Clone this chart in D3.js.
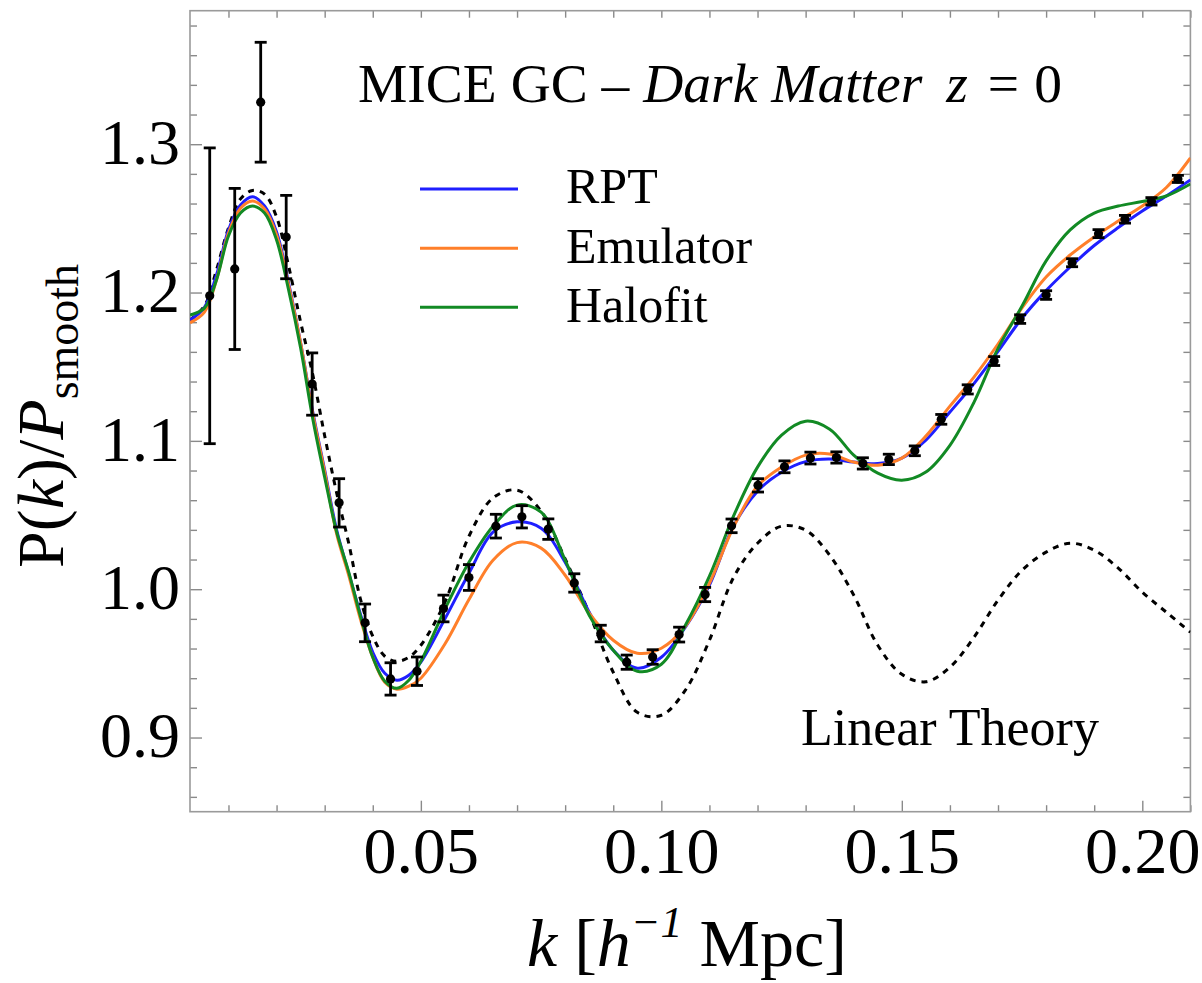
<!DOCTYPE html>
<html><head><meta charset="utf-8">
<script src="https://cdn.jsdelivr.net/npm/d3@7"></script>
<style>
body{margin:0;background:#fff}
svg{display:block}
text{font-family:"Liberation Serif","Times New Roman",serif;fill:#000}
</style>
</head><body>
<svg id="c" width="1202" height="983"></svg>
<script>
// ---- data ----
const kGrid = [0.002,0.005,0.0075,0.01,0.0125,0.015,0.0175,0.02,0.0225,0.025,0.0275,0.03,0.0325,0.035,0.0375,0.04,0.0425,0.045,0.0475,0.05,
  0.055,0.06,0.065,0.07,0.075,0.08,0.085,0.09,0.095,0.10,0.105,0.11,0.115,0.12,0.125,0.13,0.135,0.14,0.145,0.15,0.155,0.16,0.165,0.17,0.175,0.18,0.185,0.19,0.195,0.20,0.205,0.21];
const rpt = [1.1814,1.1900,1.2118,1.2422,1.2590,1.2646,1.2583,1.2408,1.2064,1.1659,1.1200,1.0803,1.0398,1.0108,0.9825,0.9575,0.9433,0.9386,0.9420,0.9508,
  0.9800,1.0108,1.0384,1.0454,1.0411,1.0182,0.9845,0.9589,0.9467,0.9541,0.9744,1.0027,1.0425,1.0661,1.0789,1.0860,1.0877,1.0857,1.0847,1.0884,1.1005,1.1194,1.1386,1.1603,1.1828,1.2013,1.2172,1.2317,1.2438,1.2550,1.2651,1.2759];
const emulator = [1.1796,1.1868,1.2084,1.2401,1.2568,1.2617,1.2563,1.2388,1.2050,1.1659,1.1187,1.0789,1.0371,1.0094,0.9791,0.9541,0.9373,0.9326,0.9346,0.9400,
  0.9630,0.9930,1.0195,1.0314,1.0277,1.0094,0.9838,0.9656,0.9568,0.9602,0.9750,1.0040,1.0418,1.0695,1.0823,1.0904,1.0911,1.0857,1.0836,1.0884,1.1032,1.1234,1.1430,1.1653,1.1897,1.2105,1.2253,1.2375,1.2482,1.2584,1.2708,1.2907];
const halofit = [1.1848,1.1895,1.2084,1.2381,1.2536,1.2583,1.2536,1.2354,1.2017,1.1626,1.1153,1.0755,1.0384,1.0115,0.9811,0.9541,0.9380,0.9332,0.9386,0.9514,
  0.9865,1.0182,1.0425,1.0567,1.0519,1.0196,0.9825,0.9589,0.9447,0.9494,0.9757,1.0088,1.0492,1.0823,1.1039,1.1133,1.1079,1.0904,1.0782,1.0735,1.0790,1.0970,1.1260,1.1624,1.1909,1.2213,1.2422,1.2536,1.2583,1.2614,1.2651,1.2732];
const linearTheory = [1.1814,1.1909,1.2152,1.2435,1.2631,1.2688,1.2664,1.2509,1.2179,1.1801,1.1450,1.1035,1.0648,1.0310,0.9926,0.9683,0.9548,0.9514,0.9541,0.9622,
  0.9912,1.0357,1.0615,1.0668,1.0526,1.0204,0.9838,0.9440,0.9170,0.9150,0.9320,0.9656,1.0078,1.0310,1.0425,1.0398,1.0229,0.9960,0.9622,0.9426,0.9376,0.9474,0.9676,0.9926,1.0128,1.0250,1.0310,1.0263,1.0142,0.9980,0.9845,0.9710];

const pointK = [0.0061,0.0113,0.0167,0.0220,0.0274,0.0330,0.0384,0.0437,0.0492,0.0547,0.0600,0.0656,0.0710,0.0765,0.0819,0.0874,0.0928,0.0982,0.1037,
  0.1091,0.1146,0.1201,0.1256,0.1310,0.1364,0.1419,0.1473,0.1527,0.1582,0.1637,0.1692,0.1746,0.1800,0.1854,0.1909,0.1964,0.2019,0.2074];
const pointP = [1.1978,1.2159,1.3283,1.2374,1.1383,1.0582,0.9773,0.9395,0.9447,0.9870,1.0079,1.0425,1.0488,1.0405,1.0042,0.9701,0.9508,0.9543,0.9694,
  0.9964,1.0427,1.0700,1.0825,1.0884,1.0888,1.0848,1.0875,1.0933,1.1145,1.1347,1.1538,1.1821,1.1983,1.2201,1.2397,1.2494,1.2615,1.2766];
const pointErr = [0.0997,0.0543,0.0404,0.0281,0.0210,0.0163,0.0127,0.0109,0.0096,0.0090,0.0087,0.0080,0.0075,0.0069,0.0062,0.0056,0.0048,0.0049,0.0050,
  0.0048,0.0046,0.0045,0.0040,0.0040,0.0038,0.0038,0.0035,0.0033,0.0033,0.0031,0.0030,0.0029,0.0029,0.0027,0.0027,0.0026,0.0025,0.0024];

const xMajor = [0.05,0.10,0.15,0.20];
const xMinor = [0.01,0.02,0.03,0.04,0.06,0.07,0.08,0.09,0.11,0.12,0.13,0.14,0.16,0.17,0.18,0.19,0.21];
const yMajor = [0.9,1.0,1.1,1.2,1.3];
const yMinor = [0.86,0.88,0.92,0.94,0.96,0.98,1.02,1.04,1.06,1.08,1.12,1.14,1.16,1.18,1.22,1.24,1.26,1.28,1.32,1.34,1.36,1.38];

const seriesNames = ["RPT","Emulator","Halofit"];
const seriesColors = ["#1f1fff","#ff7f2a","#128a24"];

// ---- drawing ----
const FONT = '"Liberation Serif","Times New Roman",serif';
const svg = d3.select("#c");
const L=190, R=1190.4, T=10.7, B=811.7;
const x = d3.scaleLinear().domain([0.002,0.21]).range([L,R]);
const y = d3.scaleLinear().domain([0.85,1.39]).range([B,T]);

svg.append("defs").append("clipPath").attr("id","clip")
  .append("rect").attr("x",L).attr("y",T).attr("width",R-L).attr("height",B-T);

const tickColor = "#8a8a8a";
function styleAxis(g){
  g.attr("font-family",FONT);
  g.select(".domain").remove();
  g.selectAll(".tick line").attr("stroke",tickColor).attr("stroke-width",1.4);
  g.selectAll("text").attr("font-family",FONT).style("font-family",FONT).attr("fill","#000");
}
// bottom
svg.append("g").attr("transform",`translate(0,${B})`)
  .call(d3.axisBottom(x).tickValues(xMajor).tickSize(-11).tickPadding(14).tickFormat(d3.format(".2f")))
  .call(styleAxis).call(g=>g.selectAll("text").attr("font-size",66));
svg.append("g").attr("transform",`translate(0,${B})`)
  .call(d3.axisBottom(x).tickValues(xMinor).tickSize(-6.5).tickFormat(""))
  .call(styleAxis);
// top
svg.append("g").attr("transform",`translate(0,${T})`)
  .call(d3.axisTop(x).tickValues(xMajor.concat(xMinor)).tickSize(-7).tickFormat(""))
  .call(styleAxis);
// left
svg.append("g").attr("transform",`translate(${L},0)`)
  .call(d3.axisLeft(y).tickValues(yMajor).tickSize(-12).tickPadding(10).tickFormat(d3.format(".1f")))
  .call(styleAxis).call(g=>g.selectAll("text").attr("font-size",64).attr("dy","0.30em"));
svg.append("g").attr("transform",`translate(${L},0)`)
  .call(d3.axisLeft(y).tickValues(yMinor).tickSize(-7).tickFormat(""))
  .call(styleAxis);
// right
svg.append("g").attr("transform",`translate(${R},0)`)
  .call(d3.axisRight(y).tickValues(yMajor.concat(yMinor)).tickSize(-7).tickFormat(""))
  .call(styleAxis);

// frame
svg.append("rect").attr("x",L).attr("y",T).attr("width",R-L).attr("height",B-T)
  .attr("fill","none").attr("stroke","#9a9a9a").attr("stroke-width",1.6);

const plot = svg.append("g").attr("clip-path","url(#clip)");
const line = d3.line().x(d=>x(d[0])).y(d=>y(d[1])).curve(d3.curveCatmullRom.alpha(0.5));

plot.append("path").datum(kGrid.map((k,i)=>[k,linearTheory[i]]))
  .attr("d",line).attr("fill","none").attr("stroke","#000").attr("stroke-width",3)
  .attr("stroke-dasharray","6,6");

[rpt,emulator,halofit].forEach((s,j)=>{
  plot.append("path").datum(kGrid.map((k,i)=>[k,s[i]]))
    .attr("d",line).attr("fill","none").attr("stroke",seriesColors[j]).attr("stroke-width",3);
});

// data points with error bars
const pts = svg.append("g");
pointK.forEach((k,i)=>{
  const cx=x(k), top=y(pointP[i]+pointErr[i]), bot=y(pointP[i]-pointErr[i]);
  pts.append("line").attr("x1",cx).attr("x2",cx).attr("y1",top).attr("y2",bot).attr("stroke","#000").attr("stroke-width",2.8);
  [top,bot].forEach(v=>pts.append("line").attr("x1",cx-6).attr("x2",cx+6).attr("y1",v).attr("y2",v).attr("stroke","#000").attr("stroke-width",2.8));
  pts.append("circle").attr("cx",cx).attr("cy",y(pointP[i])).attr("r",4.6).attr("fill","#000");
});

// title
const title = svg.append("text").attr("x",358).attr("y",101.7).attr("font-size",55.5).style("white-space","pre");
title.append("tspan").text("MICE GC – ");
title.append("tspan").attr("font-style","italic").text("Dark Matter");
title.append("tspan").attr("dx",24).attr("font-style","italic").text("z");
title.append("tspan").attr("dx",20).text("=");
title.append("tspan").attr("dx",15).text("0");

// legend
seriesNames.forEach((n,j)=>{
  const ly = [189,248.3,307.3][j];
  svg.append("line").attr("x1",420).attr("x2",518).attr("y1",ly).attr("y2",ly)
    .attr("stroke",seriesColors[j]).attr("stroke-width",3);
  svg.append("text").attr("x",566).attr("y",ly+14.4).attr("font-size",50).text(n);
});

// Linear theory label
svg.append("text").attr("x",801).attr("y",745).attr("font-size",52).text("Linear Theory");

// y axis title
const yt = svg.append("text").attr("transform","translate(63,568) rotate(-90)").attr("font-size",66);
yt.append("tspan").text("P(");
yt.append("tspan").attr("font-style","italic").text("k");
yt.append("tspan").text(")/");
yt.append("tspan").attr("font-style","italic").text("P");
yt.append("tspan").attr("font-size",46).attr("dy",15).text("smooth");

// x axis title
const xt = svg.append("text").attr("x",527).attr("y",966).attr("font-size",68);
xt.append("tspan").attr("font-style","italic").text("k");
xt.append("tspan").text(" [");
xt.append("tspan").attr("font-style","italic").text("h");
xt.append("tspan").attr("font-size",44).attr("dy",-29).attr("font-style","italic").text("−1");
xt.append("tspan").attr("dy",29).text(" Mpc]");
</script>
</body></html>
